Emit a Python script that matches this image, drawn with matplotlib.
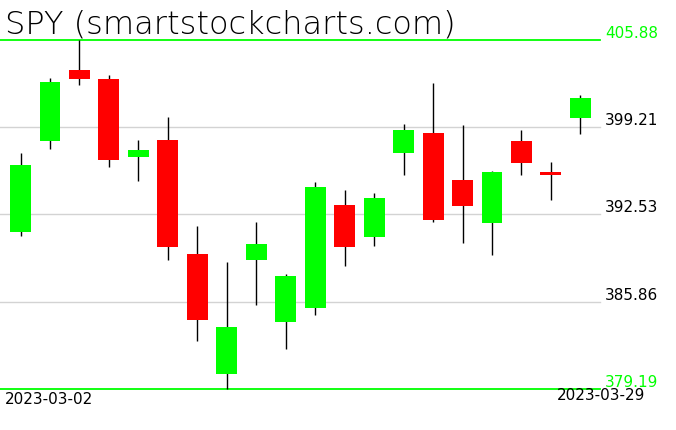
import numpy as np
import matplotlib
matplotlib.use("Agg")
import matplotlib.pyplot as plt

# SPY daily candles, 2023-03-02 .. 2023-03-29
dates = ["2023-03-02", "2023-03-03", "2023-03-06", "2023-03-07", "2023-03-08",
         "2023-03-09", "2023-03-10", "2023-03-13", "2023-03-14", "2023-03-15",
         "2023-03-16", "2023-03-17", "2023-03-20", "2023-03-21", "2023-03-22",
         "2023-03-23", "2023-03-24", "2023-03-27", "2023-03-28", "2023-03-29"]
opens = [391.15, 398.16, 403.55, 402.87, 396.87, 398.22, 389.52, 380.32, 389.01, 384.34,
         385.35, 393.26, 390.77, 397.25, 398.77, 395.17, 391.83, 398.14, 395.78, 399.92]
highs = [397.22, 402.92, 405.88, 403.17, 398.24, 399.97, 391.66, 388.91, 391.96, 388.00,
         395.01, 394.40, 394.17, 399.44, 402.56, 399.36, 395.85, 398.98, 396.54, 401.65]
lows = [390.84, 397.48, 402.43, 396.13, 395.04, 389.01, 382.83, 379.19, 385.58, 382.22,
        384.82, 388.55, 390.08, 395.57, 391.98, 390.31, 389.39, 395.57, 393.66, 398.70]
closes = [396.31, 402.64, 402.89, 396.71, 397.45, 390.00, 384.44, 383.96, 390.29, 387.84,
          394.63, 390.00, 393.79, 398.98, 392.06, 393.13, 395.78, 396.48, 395.57, 401.42]

W, H = 676, 431
fig = plt.figure(figsize=(W / 100, H / 100), dpi=100)
ax = fig.add_axes([0, 0, 1, 1])
ax.set_axis_off()

hi, lo = max(highs), min(lows)
# pixel mapping: top line at y=40.5 px, bottom line at y=390 px
k = (hi - lo) / (390 - 40.5)
ax.set_ylim(lo - (H - 390) * k, hi + 40.5 * k)
step = 29.47
ax.set_xlim(-20.5 / step, (W - 20.5) / step)

# price levels: min, max and three evenly spaced in between
line_end = 600 / W
levels = [lo + (hi - lo) * i / 4 for i in range(5)]
for i, lev in enumerate(levels):
    edge = i in (0, 4)
    ax.axhline(lev, xmin=0, xmax=line_end, color="#00ff00" if edge else "#d3d3d3",
               lw=1.3 if edge else 1.0, zorder=1)
    fig.text(605 / W, 1 - (40.5 + (hi - lev) / k) / H, f"{lev:.2f}", fontsize=11,
             color="#00ff00" if edge else "black", va="bottom", ha="left")

x = np.arange(len(dates))
for i in x:
    o, h, l, c = opens[i], highs[i], lows[i], closes[i]
    col = "#00ff00" if c >= o else "#ff0000"
    ax.vlines(i, l, h, color="black", lw=1.0, zorder=2)
    ax.bar(i, abs(c - o), bottom=min(o, c), width=0.71, color=col, zorder=3)

fig.text(5 / W, 1 - 25 / H, "SPY (smartstockcharts.com)", fontsize=23,
         fontweight="light", color="black", va="center", ha="left")
fig.text(5 / W, 1 - 400 / H, dates[0], fontsize=11, va="center", ha="left")
fig.text(645 / W, 1 - 396 / H, dates[-1], fontsize=11, va="center", ha="right")

fig.savefig("out.png", dpi=100)
